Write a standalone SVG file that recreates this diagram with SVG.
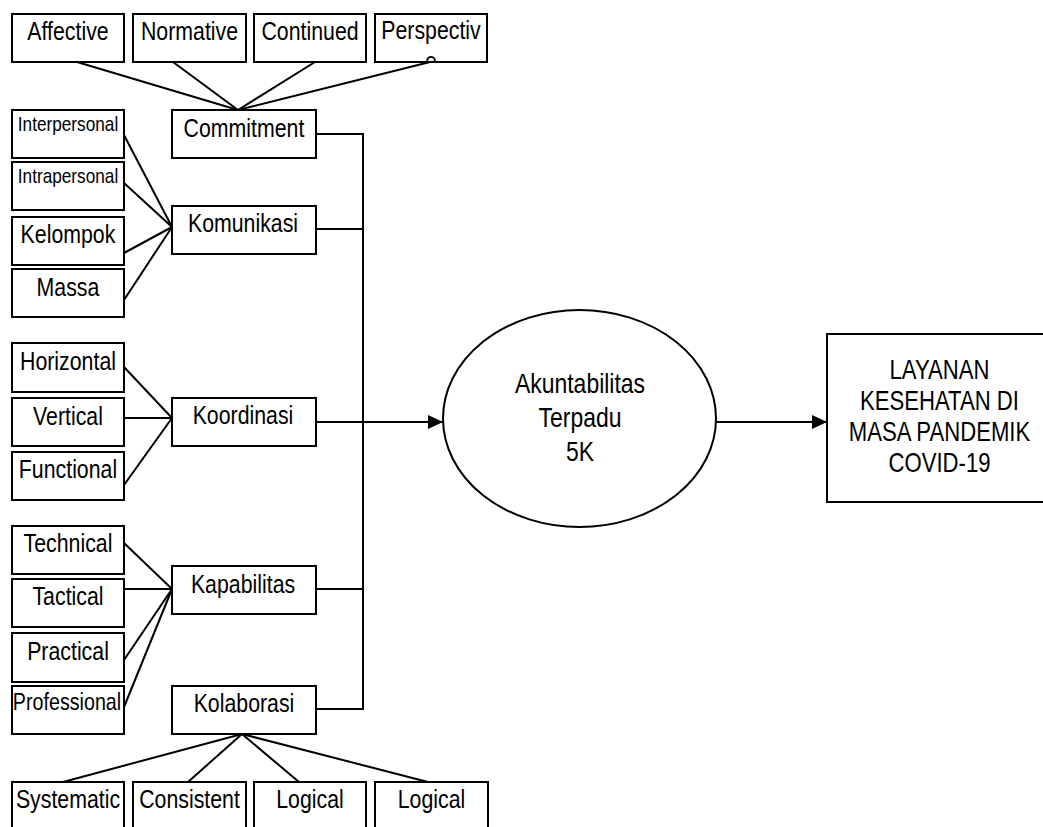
<svg xmlns="http://www.w3.org/2000/svg" width="1043" height="827" viewBox="0 0 1043 827">
<style>
  .box { fill: #fff; stroke: #000; stroke-width: 2; }
  .ell { fill: #fff; stroke: #000; stroke-width: 2; }
  .ln { fill: none; stroke: #000; stroke-width: 2; }
  text { font-family: "Liberation Sans", Arial, sans-serif; font-size: 26px; fill: #000; text-anchor: middle; }
  .sm { font-size: 21px; }
  .md { font-size: 24px; }
  .lg { font-size: 28px; }
  .rb { font-size: 27px; }
</style>
<defs>
  <marker id="arr" markerUnits="userSpaceOnUse" markerWidth="16" markerHeight="14" refX="15" refY="7" orient="auto">
    <path d="M0,0 L15,7 L0,14 z" fill="#000"/>
  </marker>
  <clipPath id="clipP"><rect x="375" y="14" width="112" height="47"/></clipPath>
</defs>
<rect x="0" y="0" width="1043" height="827" fill="#fff"/>

<g id="connectors">
  <!-- Commitment fan -->
  <line class="ln" x1="77" y1="62" x2="238" y2="110"/>
  <line class="ln" x1="173" y1="62" x2="238" y2="110"/>
  <line class="ln" x1="315" y1="62" x2="238" y2="110"/>
  <line class="ln" x1="430" y1="62" x2="238" y2="110"/>
  <!-- Komunikasi fan -->
  <line class="ln" x1="124" y1="135" x2="172" y2="227"/>
  <line class="ln" x1="124" y1="183" x2="172" y2="227"/>
  <line class="ln" x1="124" y1="253" x2="172" y2="227"/>
  <line class="ln" x1="124" y1="300" x2="172" y2="227"/>
  <!-- Koordinasi fan -->
  <line class="ln" x1="124" y1="367" x2="172" y2="418"/>
  <line class="ln" x1="124" y1="418" x2="172" y2="418"/>
  <line class="ln" x1="124" y1="485" x2="172" y2="418"/>
  <!-- Kapabilitas fan -->
  <line class="ln" x1="124" y1="543" x2="172" y2="589"/>
  <line class="ln" x1="124" y1="589" x2="172" y2="589"/>
  <line class="ln" x1="124" y1="660" x2="172" y2="589"/>
  <line class="ln" x1="124" y1="707" x2="172" y2="589"/>
  <!-- Kolaborasi fan -->
  <line class="ln" x1="242" y1="734" x2="63" y2="782"/>
  <line class="ln" x1="242" y1="734" x2="188" y2="782"/>
  <line class="ln" x1="242" y1="734" x2="299" y2="782"/>
  <line class="ln" x1="242" y1="734" x2="428" y2="782"/>
  <!-- bus -->
  <polyline class="ln" points="316,134 363,134 363,709 316,709"/>
  <line class="ln" x1="316" y1="229" x2="363" y2="229"/>
  <line class="ln" x1="316" y1="589" x2="363" y2="589"/>
  <line class="ln" x1="316" y1="422" x2="443" y2="422" marker-end="url(#arr)"/>
  <line class="ln" x1="716" y1="422" x2="827" y2="422" marker-end="url(#arr)"/>
</g>

<g id="n-affective"><rect class="box" x="12" y="14" width="112" height="48"/><text transform="translate(68 40) scale(0.82 1)">Affective</text></g>
<g id="n-normative"><rect class="box" x="133" y="14" width="113" height="48"/><text transform="translate(189.5 40) scale(0.82 1)">Normative</text></g>
<g id="n-continued"><rect class="box" x="254" y="14" width="112" height="48"/><text transform="translate(310 40) scale(0.82 1)">Continued</text></g>
<g id="n-perspective"><rect class="box" x="375" y="14" width="112" height="48"/><text transform="translate(431 39) scale(0.82 1)">Perspectiv</text><g clip-path="url(#clipP)"><text transform="translate(431 70) scale(0.82 1)">e</text></g></g>

<g id="n-commitment"><rect class="box" x="172" y="110" width="144" height="48"/><text transform="translate(244 137) scale(0.82 1)">Commitment</text></g>

<g id="n-interpersonal"><rect class="box" x="12" y="110" width="112" height="48"/><text class="sm" transform="translate(68 131) scale(0.82 1)">Interpersonal</text></g>
<g id="n-intrapersonal"><rect class="box" x="12" y="162" width="112" height="48"/><text class="sm" transform="translate(68 183) scale(0.82 1)">Intrapersonal</text></g>
<g id="n-kelompok"><rect class="box" x="12" y="217" width="112" height="48"/><text transform="translate(68 243) scale(0.82 1)">Kelompok</text></g>
<g id="n-massa"><rect class="box" x="12" y="269" width="112" height="48"/><text transform="translate(68 296) scale(0.82 1)">Massa</text></g>
<g id="n-komunikasi"><rect class="box" x="172" y="206" width="144" height="48"/><text transform="translate(243 232) scale(0.82 1)">Komunikasi</text></g>

<g id="n-horizontal"><rect class="box" x="12" y="343" width="112" height="49"/><text transform="translate(68 370) scale(0.82 1)">Horizontal</text></g>
<g id="n-vertical"><rect class="box" x="12" y="398" width="112" height="48"/><text transform="translate(68 425) scale(0.82 1)">Vertical</text></g>
<g id="n-functional"><rect class="box" x="12" y="452" width="112" height="48"/><text transform="translate(68 478) scale(0.82 1)">Functional</text></g>
<g id="n-koordinasi"><rect class="box" x="172" y="398" width="144" height="48"/><text transform="translate(243 424) scale(0.82 1)">Koordinasi</text></g>

<g id="n-technical"><rect class="box" x="12" y="526" width="112" height="48"/><text transform="translate(68 552) scale(0.82 1)">Technical</text></g>
<g id="n-tactical"><rect class="box" x="12" y="579" width="112" height="48"/><text transform="translate(68 605) scale(0.82 1)">Tactical</text></g>
<g id="n-practical"><rect class="box" x="12" y="633" width="112" height="49"/><text transform="translate(68 660) scale(0.82 1)">Practical</text></g>
<g id="n-professional"><rect class="box" x="12" y="686" width="112" height="48"/><text class="md" transform="translate(67 710) scale(0.82 1)">Professional</text></g>
<g id="n-kapabilitas"><rect class="box" x="172" y="566" width="144" height="48"/><text transform="translate(243 593) scale(0.82 1)">Kapabilitas</text></g>

<g id="n-kolaborasi"><rect class="box" x="172" y="686" width="144" height="48"/><text transform="translate(244 712) scale(0.82 1)">Kolaborasi</text></g>

<g id="n-systematic"><rect class="box" x="12" y="782" width="112" height="60"/><text transform="translate(68 808) scale(0.82 1)">Systematic</text></g>
<g id="n-consistent"><rect class="box" x="133" y="782" width="113" height="60"/><text transform="translate(189.5 808) scale(0.82 1)">Consistent</text></g>
<g id="n-logical1"><rect class="box" x="254" y="782" width="112" height="60"/><text transform="translate(310 808) scale(0.82 1)">Logical</text></g>
<g id="n-logical2"><rect class="box" x="375" y="782" width="113" height="60"/><text transform="translate(431.5 808) scale(0.82 1)">Logical</text></g>

<g id="n-akuntabilitas">
  <ellipse class="ell" cx="579.5" cy="418.5" rx="136.5" ry="108.5"/>
  <text class="lg" transform="translate(580 393) scale(0.82 1)">Akuntabilitas</text>
  <text class="lg" transform="translate(580 427) scale(0.82 1)">Terpadu</text>
  <text class="lg" transform="translate(580 461) scale(0.82 1)">5K</text>
</g>

<g id="n-layanan">
  <rect class="box" x="827" y="334" width="240" height="168"/>
  <text class="rb" transform="translate(939.5 379) scale(0.82 1)">LAYANAN</text>
  <text class="rb" transform="translate(939.5 410) scale(0.82 1)">KESEHATAN DI</text>
  <text class="rb" transform="translate(939.5 441) scale(0.82 1)">MASA PANDEMIK</text>
  <text class="rb" transform="translate(939.5 472) scale(0.82 1)">COVID-19</text>
</g>
</svg>
